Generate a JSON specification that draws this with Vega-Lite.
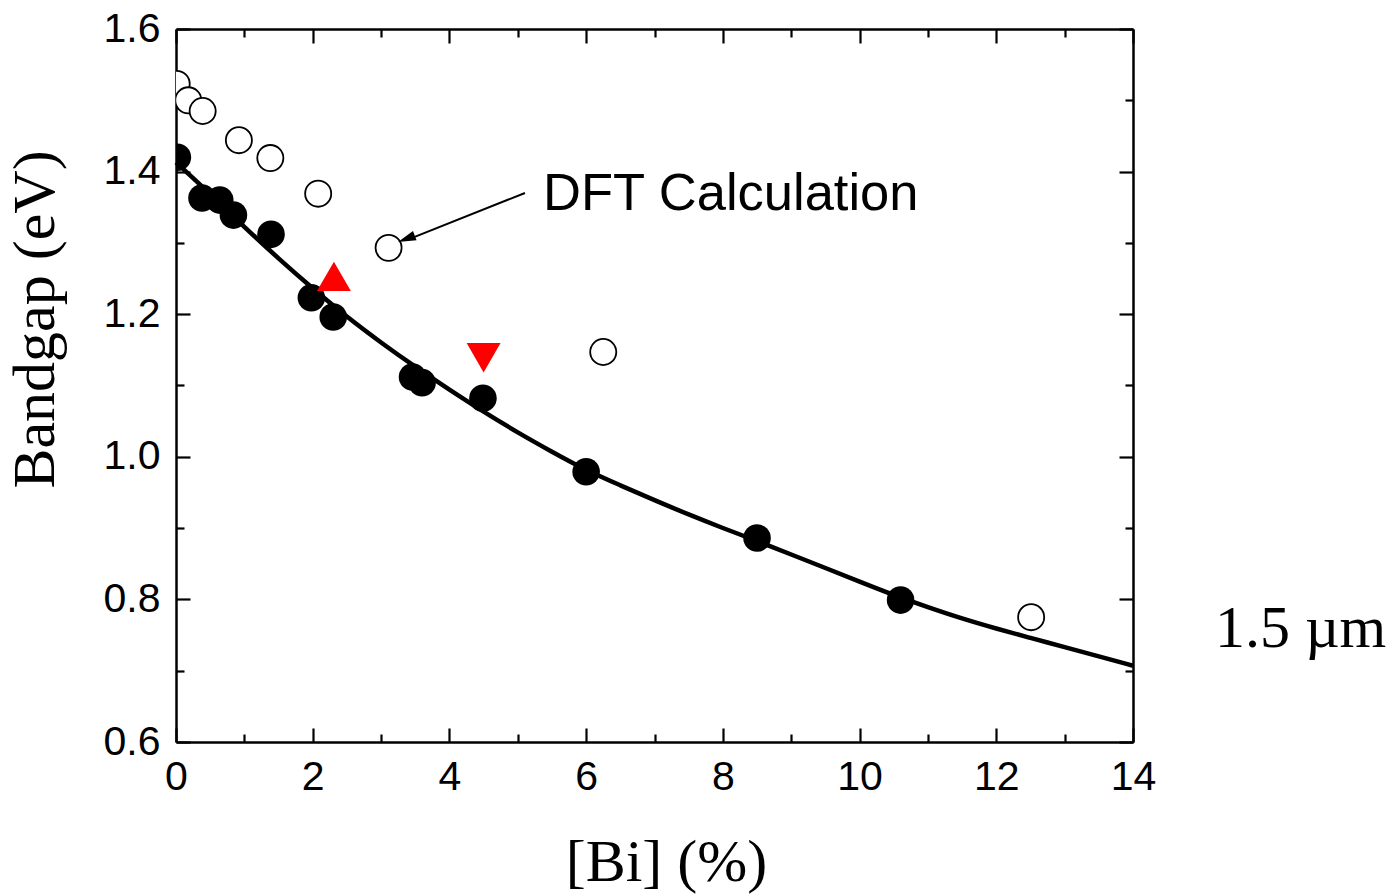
{
  "$schema": "https://vega.github.io/schema/vega-lite/v6.json",
  "width": 957,
  "height": 713,
  "autosize": "none",
  "padding": {"left": 176, "top": 29, "right": 262, "bottom": 153},
  "background": "white",
  "config": {
    "view": {"stroke": null},
    "axis": {
      "grid": false,
      "domainColor": "black",
      "tickColor": "black",
      "labelColor": "black",
      "titleColor": "black",
      "domainWidth": 2.5,
      "tickWidth": 2.2,
      "labelFont": "Liberation Sans",
      "labelFontSize": 41,
      "titleFont": "Liberation Serif",
      "titleFontWeight": "normal",
      "titleFontSize": 60,
      "labelOverlap": false,
      "labelBound": false,
      "zindex": 1
    }
  },
  "datasets": {
    "curve": [
      {"x": 0, "y": 1.413}, {"x": 0.5, "y": 1.369}, {"x": 1, "y": 1.322}, {"x": 1.5, "y": 1.278},
      {"x": 2, "y": 1.236}, {"x": 2.5, "y": 1.196}, {"x": 3, "y": 1.160}, {"x": 3.5, "y": 1.126},
      {"x": 4, "y": 1.094}, {"x": 4.5, "y": 1.063}, {"x": 5, "y": 1.034}, {"x": 5.5, "y": 1.007},
      {"x": 6, "y": 0.981}, {"x": 6.5, "y": 0.960}, {"x": 7, "y": 0.939}, {"x": 7.5, "y": 0.919},
      {"x": 8, "y": 0.900}, {"x": 8.5, "y": 0.882}, {"x": 9, "y": 0.863}, {"x": 9.5, "y": 0.844},
      {"x": 10, "y": 0.825}, {"x": 10.5, "y": 0.806}, {"x": 11, "y": 0.789}, {"x": 11.5, "y": 0.773},
      {"x": 12, "y": 0.759}, {"x": 12.5, "y": 0.746}, {"x": 13, "y": 0.733}, {"x": 13.5, "y": 0.720},
      {"x": 14, "y": 0.707}
    ],
    "filled": [
      {"x": 0.02, "y": 1.420}, {"x": 0.38, "y": 1.363}, {"x": 0.64, "y": 1.360}, {"x": 0.84, "y": 1.339},
      {"x": 1.39, "y": 1.312}, {"x": 1.98, "y": 1.223}, {"x": 2.30, "y": 1.196}, {"x": 3.46, "y": 1.112},
      {"x": 3.60, "y": 1.104}, {"x": 4.49, "y": 1.082}, {"x": 6.0, "y": 0.979}, {"x": 8.5, "y": 0.886},
      {"x": 10.6, "y": 0.799}
    ],
    "dft": [
      {"x": 0.01, "y": 1.523}, {"x": 0.18, "y": 1.500}, {"x": 0.39, "y": 1.485}, {"x": 0.92, "y": 1.444},
      {"x": 1.38, "y": 1.419}, {"x": 2.08, "y": 1.369}, {"x": 3.11, "y": 1.293}, {"x": 6.25, "y": 1.147},
      {"x": 12.51, "y": 0.775}
    ],
    "tri": [
      {"x": 2.31, "y": 1.253, "dir": "up"},
      {"x": 4.50, "y": 1.139, "dir": "down"}
    ],
    "arrow": [
      {"x": 5.105, "y": 1.370, "x2": 3.40, "y2": 1.305}
    ],
    "head": [
      {"x": 3.370, "y": 1.3057}
    ],
    "labels": [
      {"x": 5.37, "y": 1.346, "t": "DFT Calculation"}
    ],
    "wl": [
      {"x": 15.2, "y": 0.733, "t": "1.5 µm"}
    ]
  },
  "layer": [
    {
      "data": {"name": "curve"},
      "mark": {"type": "line", "color": "black", "strokeWidth": 4.5, "interpolate": "basis"},
      "encoding": {
        "x": {"field": "x", "type": "quantitative",
          "scale": {"domain": [0, 14], "nice": false, "zero": false},
          "axis": {"orient": "bottom", "values": [0, 2, 4, 6, 8, 10, 12, 14], "ticks": false, "labelPadding": 15,
            "labelFlush": false, "title": "[Bi] (%)", "titleX": 490, "titleY": 138, "titleBaseline": "alphabetic", "titleAlign": "center"}},
        "y": {"field": "y", "type": "quantitative",
          "scale": {"domain": [0.6, 1.6], "nice": false, "zero": false},
          "axis": {"orient": "left", "values": [0.6, 0.8, 1.0, 1.2, 1.4, 1.6], "format": ".1f", "ticks": false, "labelPadding": 16,
            "labelFlush": false, "title": "Bandgap (eV)", "titleX": -123, "titleY": 290, "titleAngle": -90, "titleBaseline": "alphabetic", "titleAlign": "center"}}
      }
    },
    {
      "data": {"name": "filled"},
      "mark": {"type": "point", "shape": "circle", "filled": true, "color": "black", "size": 760, "opacity": 1, "clip": true},
      "encoding": {
        "x": {"field": "x", "type": "quantitative",
          "scale": {"domain": [0, 14], "nice": false, "zero": false},
          "axis": {"orient": "bottom", "values": [0, 1, 2, 3, 4, 5, 6, 7, 8, 9, 10, 11, 12, 13, 14], "labels": false, "domain": false, "title": null,
            "tickSize": {"condition": {"test": "datum.value % 2 == 0", "value": -14}, "value": -8}}},
        "y": {"field": "y", "type": "quantitative",
          "scale": {"domain": [0.6, 1.6], "nice": false, "zero": false},
          "axis": {"orient": "left", "values": [0.6, 0.7, 0.8, 0.9, 1.0, 1.1, 1.2, 1.3, 1.4, 1.5, 1.6], "labels": false, "domain": false, "title": null,
            "tickSize": {"condition": {"test": "round(datum.value * 10) % 2 == 0", "value": -14}, "value": -8}}}
      }
    },
    {
      "data": {"name": "dft"},
      "mark": {"type": "point", "shape": "circle", "filled": false, "fill": "white", "stroke": "black", "strokeWidth": 1.8, "size": 680, "opacity": 1, "clip": true},
      "encoding": {
        "x": {"field": "x", "type": "quantitative",
          "scale": {"domain": [0, 14], "nice": false, "zero": false},
          "axis": {"orient": "top", "values": [0, 1, 2, 3, 4, 5, 6, 7, 8, 9, 10, 11, 12, 13, 14], "labels": false, "domain": true, "title": null,
            "tickSize": {"condition": {"test": "datum.value % 2 == 0", "value": -14}, "value": -8}}},
        "y": {"field": "y", "type": "quantitative",
          "scale": {"domain": [0.6, 1.6], "nice": false, "zero": false},
          "axis": {"orient": "right", "values": [0.6, 0.7, 0.8, 0.9, 1.0, 1.1, 1.2, 1.3, 1.4, 1.5, 1.6], "labels": false, "domain": true, "title": null,
            "tickSize": {"condition": {"test": "round(datum.value * 10) % 2 == 0", "value": -14}, "value": -8}}}
      }
    },
    {
      "data": {"name": "tri"},
      "mark": {"type": "point", "filled": true, "color": "#ff0000", "size": 1150, "opacity": 1},
      "encoding": {
        "x": {"field": "x", "type": "quantitative", "scale": {"domain": [0, 14], "nice": false, "zero": false}, "axis": null},
        "y": {"field": "y", "type": "quantitative", "scale": {"domain": [0.6, 1.6], "nice": false, "zero": false}, "axis": null},
        "shape": {"field": "dir", "type": "nominal", "scale": {"domain": ["up", "down"], "range": ["triangle-up", "triangle-down"]}, "legend": null}
      }
    },
    {
      "data": {"name": "arrow"},
      "mark": {"type": "rule", "color": "black", "strokeWidth": 2},
      "encoding": {
        "x": {"field": "x", "type": "quantitative", "scale": {"domain": [0, 14], "nice": false, "zero": false}, "axis": null},
        "y": {"field": "y", "type": "quantitative", "scale": {"domain": [0.6, 1.6], "nice": false, "zero": false}, "axis": null},
        "x2": {"field": "x2"},
        "y2": {"field": "y2"}
      }
    },
    {
      "data": {"name": "head"},
      "mark": {"type": "point", "shape": "M1,0L-1,-0.55L-1,0.55Z", "filled": true, "color": "black", "size": 324, "angle": 159, "opacity": 1},
      "encoding": {
        "x": {"field": "x", "type": "quantitative", "scale": {"domain": [0, 14], "nice": false, "zero": false}, "axis": null},
        "y": {"field": "y", "type": "quantitative", "scale": {"domain": [0.6, 1.6], "nice": false, "zero": false}, "axis": null}
      }
    },
    {
      "data": {"name": "labels"},
      "mark": {"type": "text", "font": "Liberation Sans", "fontSize": 52.5, "align": "left", "baseline": "alphabetic", "color": "black"},
      "encoding": {
        "x": {"field": "x", "type": "quantitative", "scale": {"domain": [0, 14], "nice": false, "zero": false}, "axis": null},
        "y": {"field": "y", "type": "quantitative", "scale": {"domain": [0.6, 1.6], "nice": false, "zero": false}, "axis": null},
        "text": {"field": "t"}
      }
    },
    {
      "data": {"name": "wl"},
      "mark": {"type": "text", "font": "Liberation Serif", "fontSize": 60, "align": "left", "baseline": "alphabetic", "color": "black"},
      "encoding": {
        "x": {"field": "x", "type": "quantitative", "scale": {"domain": [0, 14], "nice": false, "zero": false}, "axis": null},
        "y": {"field": "y", "type": "quantitative", "scale": {"domain": [0.6, 1.6], "nice": false, "zero": false}, "axis": null},
        "text": {"field": "t"}
      }
    }
  ],
  "resolve": {"axis": {"x": "independent", "y": "independent"}}
}
